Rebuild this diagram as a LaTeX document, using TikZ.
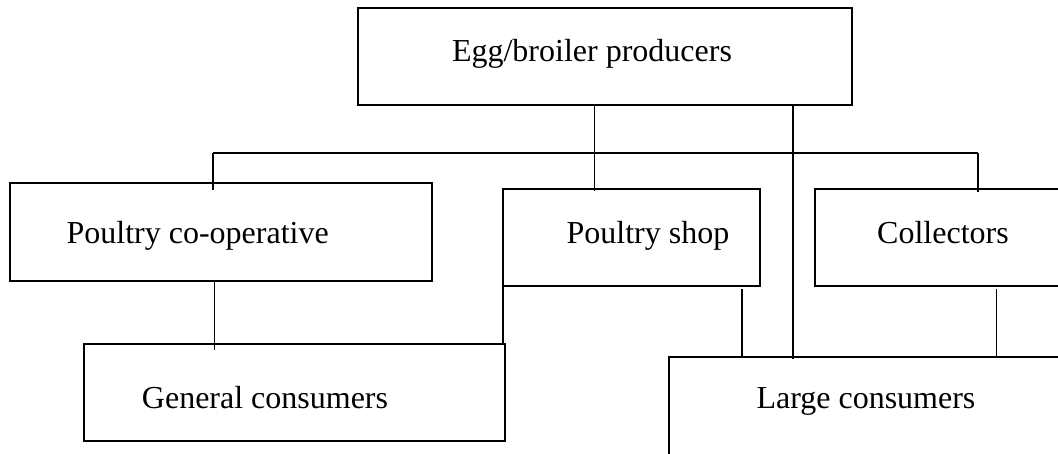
\documentclass[tikz,border=0pt]{standalone}
\usepackage{fontspec}
\setmainfont{Liberation Serif}
\begin{document}
\begin{tikzpicture}[x=1pt, y=-1pt,
  box/.style={draw=black, line width=2pt, fill=none, inner sep=0pt, outer sep=0pt},
  link/.style={draw=black, line width=1.7pt},
  lbl/.style={anchor=base, inner sep=0pt, font=\fontsize{32}{38}\selectfont}]
\path[use as bounding box, clip] (0,0) rectangle (1058,453);

% boxes
\node[box, minimum width=494pt, minimum height=97pt] (top)   at (604.5,56.8) {};
\node[box, minimum width=422pt, minimum height=98pt] (coop)  at (221,232) {};
\node[box, minimum width=257pt, minimum height=97pt] (shop)  at (631.5,237.5) {};
\node[box, minimum width=260pt, minimum height=97pt] (coll)  at (945,237.5) {};
\node[box, minimum width=421pt, minimum height=97pt] (gen)   at (294.5,392.5) {};
\node[box, minimum width=406pt, minimum height=143pt] (large) at (872,428.5) {};

% labels
\node[lbl] (topt)   at (592,61.5)  {Egg/broiler producers};
\node[lbl] (coopt)  at (197.7,243) {Poultry co-operative};
\node[lbl] (shopt)  at (648,243)   {Poultry shop};
\node[lbl] (collt)  at (943,243)   {Collectors};
\node[lbl] (gent)   at (265,408)   {General consumers};
\node[lbl] (larget) at (866,408)   {Large consumers};

% connector positions
\coordinate (d1) at (594.5,0);
\coordinate (d2) at (793,0);
\coordinate (bl) at (213,153);
\coordinate (br) at (978,153);
\coordinate (c1) at (214.6,0);
\coordinate (c2) at (742,0);
\coordinate (c3) at (996.6,0);

% connectors
\draw[link] (top.south -| d1) -- ([yshift=-2pt]shop.north -| d1);
\draw[link] (top.south -| d2) -- ([yshift=-2pt]large.north -| d2);
\draw[link] (bl) -- (br);
\draw[link] (bl) -- ([yshift=-7pt]coop.north -| bl);
\draw[link] (br) -- ([yshift=-2.5pt]coll.north -| br);
\draw[link] (coop.south -| c1) -- ([yshift=-6pt]gen.north -| c1);
\draw[link] (shop.south west) -- (shop.south west |- gen.north);
\draw[link] ([yshift=-3pt]shop.south -| c2) -- (large.north -| c2);
\draw[link] ([yshift=-3pt]coll.south -| c3) -- (large.north -| c3);
\end{tikzpicture}
\end{document}
